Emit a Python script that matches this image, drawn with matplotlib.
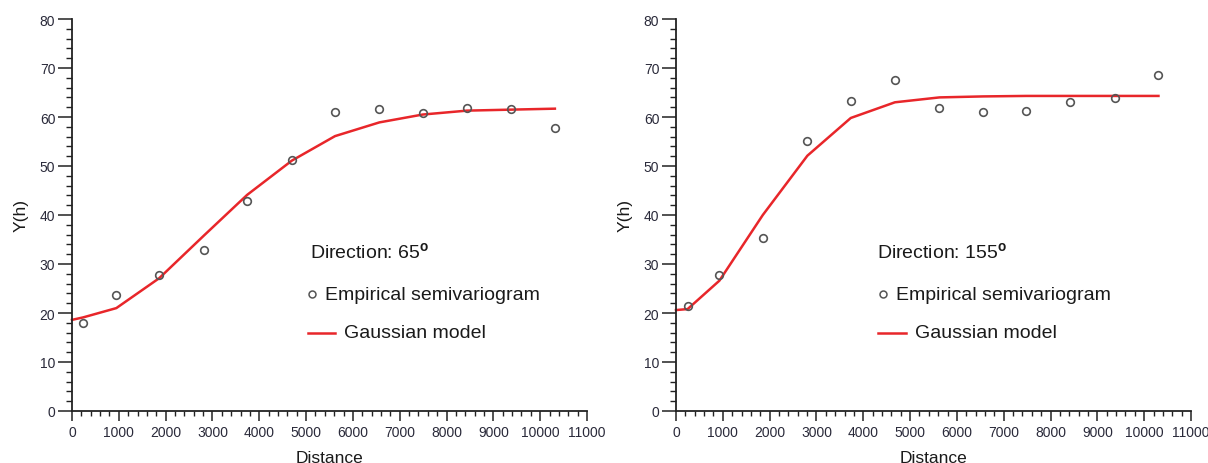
import matplotlib
matplotlib.use("Agg")
import matplotlib.pyplot as plt
from matplotlib.ticker import MultipleLocator

plt.rcParams['font.family'] = ['Liberation Sans', 'DejaVu Sans']
plt.rcParams['mathtext.fontset'] = 'custom'
plt.rcParams['mathtext.rm'] = 'Liberation Sans'
plt.rcParams['mathtext.bf'] = 'Liberation Sans:bold'

# Direction 65
lag_65 = [237, 947, 1862, 2817, 3740, 4696, 5618, 6566, 7489, 8436, 9367, 10314]
emp_65 = [17.9, 23.6, 27.7, 32.9, 42.8, 51.2, 61.0, 61.6, 60.8, 61.9, 61.6, 57.7]
mod_x_65 = [0, 237, 947, 1862, 2817, 3740, 4696, 5618, 6566, 7489, 8436, 9367, 10314]
mod_y_65 = [18.6, 19.1, 21.0, 27.1, 35.8, 44.1, 51.1, 56.1, 58.9, 60.5, 61.3, 61.5, 61.7]

# Direction 155
lag_155 = [248, 927, 1854, 2806, 3733, 4676, 5628, 6555, 7482, 8426, 9369, 10305]
emp_155 = [21.5, 27.7, 35.3, 55.1, 63.3, 67.5, 61.9, 61.0, 61.2, 63.1, 63.8, 68.6]
mod_x_155 = [0, 248, 927, 1854, 2806, 3733, 4676, 5628, 6555, 7482, 8426, 9369, 10305]
mod_y_155 = [20.6, 20.8, 26.6, 40.0, 52.1, 59.8, 63.0, 64.0, 64.2, 64.3, 64.3, 64.3, 64.3]

x_ticks = list(range(0, 11001, 1000))
y_ticks = list(range(0, 81, 10))

RED = '#e8262a'
GREY = '#555555'
TXT = '#1a1a1a'

fig = plt.figure(figsize=(12.08, 4.64), dpi=100)
axL = fig.add_axes([72/1208, 52/464, 515/1208, 392/464])
axR = fig.add_axes([676/1208, 52/464, 515/1208, 392/464])

# legend positions (axes fraction): title x, marker x, empirical text x, line x0, line x1, gaussian text x
panels = [
    (axL, lag_65, emp_65, mod_x_65, mod_y_65, "65", (0.462, 0.466, 0.491, 0.458, 0.511, 0.528)),
    (axR, lag_155, emp_155, mod_x_155, mod_y_155, "155", (0.390, 0.402, 0.427, 0.392, 0.447, 0.464)),
]

for ax, lx, ey, mx, my, ang, (tx, mkx, ex, l0, l1, gx) in panels:
    ax.plot(mx, my, color=RED, lw=1.8, zorder=2, clip_on=False)
    ax.plot(lx, ey, linestyle='none', marker='o', markersize=5.5,
            markerfacecolor='none', markeredgecolor=GREY, markeredgewidth=1.2,
            zorder=3, clip_on=False)
    ax.set_xlim(0, 11000)
    ax.set_ylim(0, 80)
    ax.set_xticks(x_ticks)
    ax.set_yticks(y_ticks)
    ax.xaxis.set_minor_locator(MultipleLocator(200))
    ax.yaxis.set_minor_locator(MultipleLocator(2))
    for s in ['top', 'right']:
        ax.spines[s].set_visible(False)
    for s in ['left', 'bottom']:
        ax.spines[s].set_color('#222222')
        ax.spines[s].set_linewidth(1.3)
    ax.tick_params(axis='y', which='major', direction='out', length=10, width=1.1,
                   color='#222222', labelsize=10, labelcolor='#2a2a3a', pad=2)
    ax.tick_params(axis='y', which='minor', direction='out', length=4, width=1.0,
                   color='#222222')
    ax.tick_params(axis='x', which='major', direction='out', length=7, width=1.1,
                   color='#222222', labelsize=10, labelcolor='#2a2a3a', pad=3)
    ax.tick_params(axis='x', which='minor', direction='out', length=3.5, width=1.0,
                   color='#222222')
    ax.set_xlabel("Distance", fontsize=12.5, color=TXT, labelpad=8)
    ax.set_ylabel("Y(h)", fontsize=12.5, color=TXT, labelpad=8)

    ax.text(tx, 0.406, "Direction: " + ang + r"$^{\mathbf{o}}$", transform=ax.transAxes,
            fontsize=14, color=TXT, va='center', ha='left')
    ax.plot([mkx], [0.298], transform=ax.transAxes, linestyle='none',
            marker='o', markersize=5, markerfacecolor='none',
            markeredgecolor=GREY, markeredgewidth=1.1, clip_on=False)
    ax.text(ex, 0.298, "Empirical semivariogram", transform=ax.transAxes,
            fontsize=14, color=TXT, va='center', ha='left')
    ax.plot([l0, l1], [0.199, 0.199], transform=ax.transAxes,
            color=RED, lw=1.8, clip_on=False)
    ax.text(gx, 0.199, "Gaussian model", transform=ax.transAxes,
            fontsize=14, color=TXT, va='center', ha='left')

fig.savefig("out.png", dpi=100)
